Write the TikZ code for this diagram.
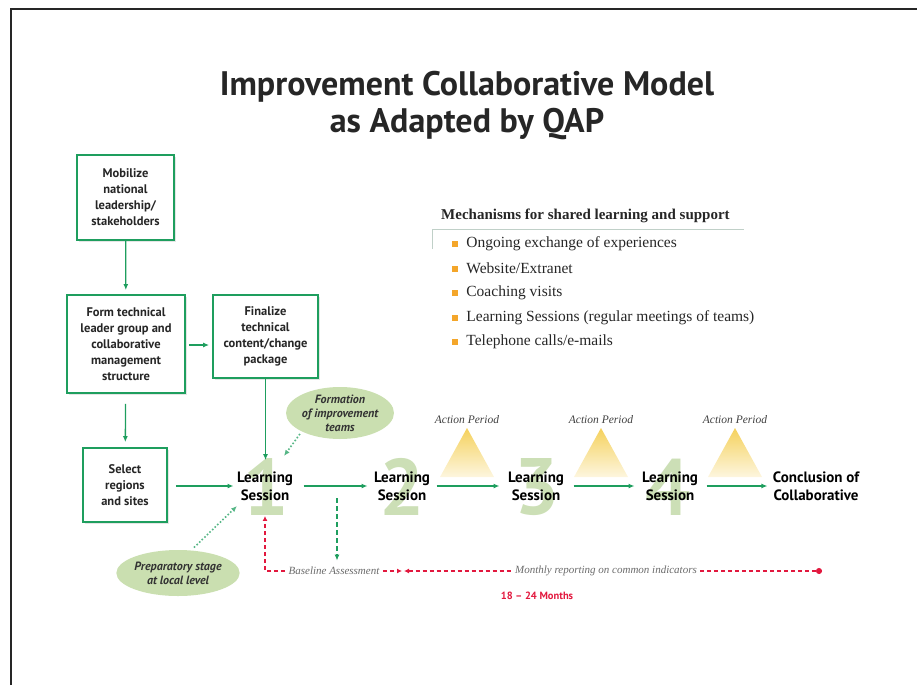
\documentclass[tikz,border=0pt]{standalone}
\usepackage{fontspec}
\setmainfont{Liberation Serif}
\setsansfont{PT Sans}
\usetikzlibrary{arrows.meta,positioning,shapes.geometric,shadows}
\definecolor{qapgreen}{HTML}{1E9E5E}
\definecolor{qapleaf}{HTML}{CADFB0}
\definecolor{qapnum}{HTML}{CCDFB6}
\definecolor{qapred}{HTML}{E2183E}
\definecolor{qaporange}{HTML}{F4A62A}
\definecolor{qapsun}{HTML}{F5D15C}
\definecolor{qapgray}{HTML}{6A6A6A}

\tikzset{
  stepbox/.style={draw=qapgreen, line width=1.8pt, fill=white, align=center, text=black!85,
    font=\sffamily\bfseries\fontsize{12.5}{16}\selectfont,
    drop shadow={shadow xshift=2pt, shadow yshift=-2pt, fill=black!20}},
  session/.style={align=center, font=\sffamily\bfseries\fontsize{15}{18}\selectfont},
  bignum/.style={inner sep=0pt, text=qapnum, font=\sffamily\bfseries\fontsize{80}{80}\selectfont},
  leaf/.style={ellipse, fill=qapleaf, align=center, inner sep=0pt, text=black!80,
    font=\sffamily\bfseries\itshape\fontsize{12}{14}\selectfont},
  flow/.style={draw=qapgreen, line width=1.3pt, -{Latex[length=6pt,width=5pt]}},
  dotflow/.style={draw=qapgreen!75, line width=1.6pt, dotted, -{Latex[length=6pt,width=5pt]}},
  dashflow/.style={draw=qapgreen, line width=1.3pt, dash pattern=on 5pt off 3pt, -{Latex[length=6pt,width=5pt]}},
  reddash/.style={draw=qapred, line width=1.3pt, dash pattern=on 4pt off 3pt},
  note/.style={text=qapgray, font=\itshape\fontsize{11}{13}\selectfont},
  bullet/.style={fill=qaporange, minimum size=6pt, inner sep=0pt},
  item/.style={inner sep=0pt, anchor=west, font=\fontsize{15.5}{18}\selectfont, text=black!85}
}

\begin{document}
\begin{tikzpicture}[x=1pt, y=-1pt]
  \useasboundingbox (0,0) rectangle (917,685);

  % slide frame
  \draw[line width=2.6pt, black!85] (11,685) -- (11,9) -- (917,9);

  % Title
  \node[align=center, font=\sffamily\bfseries\fontsize{34}{37}\selectfont, text=black!85] (title) at (467,106) {
    Improvement Collaborative Model\\
    as Adapted by QAP
  };

  % Setup boxes
  \node[stepbox, minimum width=97, minimum height=85] (mobilize) at (125.5,197.5) {
    Mobilize\\national\\leadership/\\stakeholders
  };

  \node[stepbox, minimum width=118, minimum height=98] (techgroup) at (126,344) {
    Form technical\\leader group and\\collaborative\\management\\structure
  };

  \node[stepbox, minimum width=105, minimum height=83] (finalize) at (265.5,336.5) {
    Finalize\\technical\\content/change\\package
  };

  \node[stepbox, minimum width=84, minimum height=74] (select) at (125,485) {
    Select\\regions\\and sites
  };

  % Big session numbers behind the labels
  \foreach \n/\x in {1/266,2/402,3/537,4/668}
    \node[bignum] (num\n) at (\x,487) {\n};

  % Learning sessions
  \node[session] (ls1) at (265,486) {Learning\\Session};
  \node[session] (ls2) at (402,486) {Learning\\Session};
  \node[session] (ls3) at (536,486) {Learning\\Session};
  \node[session] (ls4) at (670,486) {Learning\\Session};
  \node[session] (concl) at (816,486) {Conclusion of\\Collaborative};

  % Action periods
  \foreach \x in {467,601,735} {
    \shade[top color=qapsun, bottom color=qapsun!20] (\x-27,477) -- (\x,428) -- (\x+27,477) -- cycle;
    \node[font=\itshape\fontsize{11.5}{13}\selectfont, text=black!75, anchor=south] at (\x,427) {Action Period};
  }

  % Side notes
  \node[leaf, minimum width=97, minimum height=52] (teams) at (340,413) {
    Formation\\of improvement\\teams
  };
  \node[leaf, minimum width=113, minimum height=46] (prep) at (178,573) {
    Preparatory stage\\at local level
  };
  \coordinate (teamsend) at (284,456);
  \coordinate (prepend) at (237,506);

  % Arrows
  \draw[flow, shorten >=4pt] (mobilize) -- (techgroup);
  \draw[flow, shorten <=3pt, shorten >=3pt] (techgroup.east |- 0,345) -- (finalize.west |- 0,345);
  \draw[flow, shorten <=10pt, shorten >=5pt] (techgroup) -- (select);
  \draw[flow, shorten >=8pt] (finalize.south) -- (finalize.south |- ls1.north);

  \draw[flow, shorten <=8pt] (select.east |- ls1.west) -- (ls1.west);
  \draw[flow, shorten <=7pt, shorten >=3pt] (ls1) -- (ls2);
  \draw[flow, shorten <=3pt, shorten >=5pt] (ls2) -- (ls3);
  \draw[flow, shorten <=6pt, shorten >=4pt] (ls3) -- (ls4);
  \draw[flow, shorten <=5pt, shorten >=2pt] (ls4) -- (concl);

  \draw[dotflow, shorten <=3pt] (teams.south west) -- (teamsend);
  \draw[dotflow, shorten <=4pt] (prep.60) -- (prepend);

  % Reporting line
  \node[note] (baseline) at (334,571) {Baseline Assessment};
  \node[note] (monthly) at (606,571) {Monthly reporting on common indicators};
  \coordinate (split) at (337,487);
  \coordinate (meetL) at (402,571);
  \coordinate (meetR) at (404,571);
  \coordinate (repend) at (822,571);

  \draw[dashflow, shorten <=11pt, shorten >=3pt] (split) -- (split |- baseline.north);
  \draw[reddash, -{Latex[length=5pt,width=5pt]}, shorten >=12pt] (baseline.west) -| (ls1.south);
  \draw[reddash, -{Latex[length=5pt,width=5pt]}] (baseline.east) -- (meetL);
  \draw[reddash, {Latex[length=5pt,width=5pt]}-] (meetR) -- (monthly.west);
  \draw[reddash, -{Circle[length=6pt]}] (monthly.east) -- (repend);

  \node[text=qapred, font=\sffamily\bfseries\fontsize{10.5}{12}\selectfont] (months) at (537,596) {18 -- 24 Months};

  % Mechanisms list
  \node[anchor=west, inner sep=0pt, font=\bfseries\fontsize{15}{17}\selectfont, text=black!85] (mechhead) at (441,216) {
    Mechanisms for shared learning and support
  };
  \draw[qapgreen!30!gray!40, line width=1pt]
    ([xshift=-9pt,yshift=-26pt]mechhead.south west) -- ([xshift=-9pt,yshift=-6pt]mechhead.south west)
    -- ([xshift=14pt,yshift=-6pt]mechhead.south east);

  \foreach \txt [count=\i] in {{Ongoing exchange of experiences}, {Website/Extranet}, {Coaching visits},
      {Learning Sessions (regular meetings of teams)}, {Telephone calls/e-mails}} {
    \node[bullet] (bul\i) at (455,219.5+24.5*\i) {};
    \node[item, right=8pt of bul\i] (item\i) {\txt};
  }
\end{tikzpicture}
\end{document}
